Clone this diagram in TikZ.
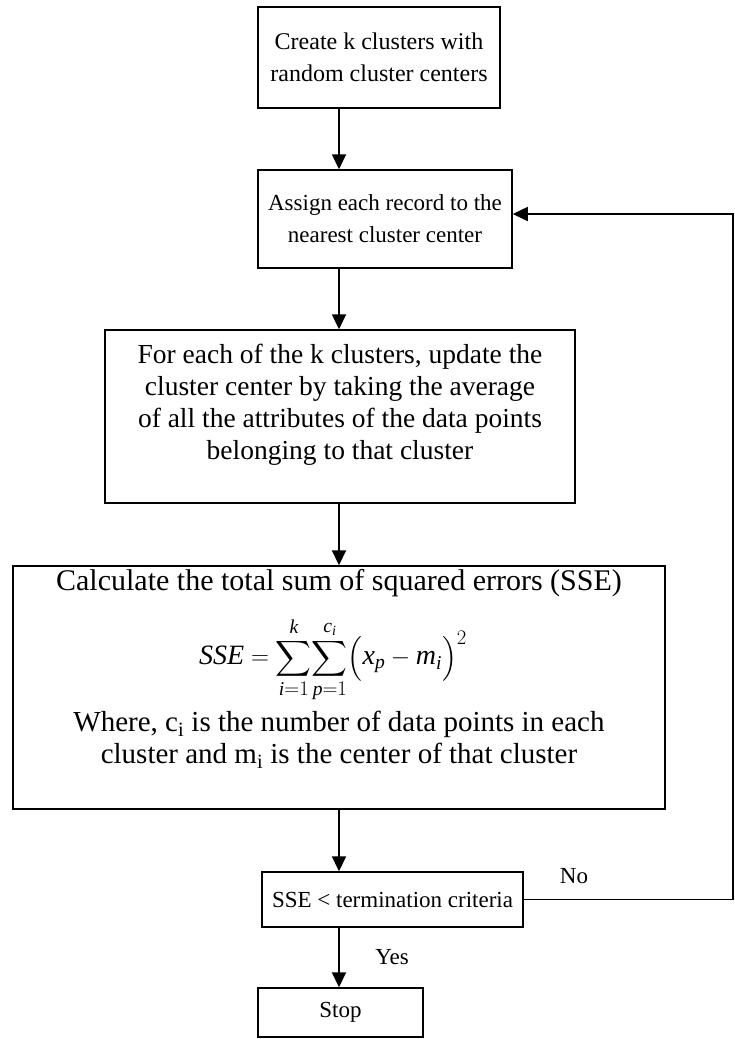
\documentclass[tikz,border=0pt]{standalone}
\usepackage{amsmath}
\usepackage{fontspec}
\setmainfont{Liberation Serif}
\usetikzlibrary{arrows.meta}
\begin{document}
\begin{tikzpicture}[x=1pt,y=-1pt,
  frame/.style={draw,line width=1.5pt,align=center,inner sep=0pt},
  small/.style={font=\fontsize{23}{32}\selectfont},
  txt/.style={align=center,inner sep=0pt},
  flow/.style={line width=2.2pt,-{Triangle[length=15pt,width=14pt]}},
  back/.style={line width=1.5pt},
  lbl/.style={inner sep=0pt,font=\fontsize{23}{32}\selectfont}]
\useasboundingbox (0,0) rectangle (734,1039);

% process steps
\node[frame,font=\fontsize{24}{32}\selectfont,minimum width=242pt,minimum height=101pt]
  (create) at (379,57.5) {Create k clusters with\\random cluster centers};
\node[frame,small,minimum width=254pt,minimum height=98pt] (assign) at (385,219)
  {Assign each record to the\\nearest cluster center};

\node[frame,minimum width=470pt,minimum height=173pt] (update) at (340,416.5) {};
\node[txt,font=\fontsize{27.5}{32}\selectfont] (updatetext) at (340,405)
  {For each of the k clusters, update the\\cluster center by taking the average\\
   of all the attributes of the data points\\belonging to that cluster};

\node[frame,minimum width=652pt,minimum height=243pt] (sse) at (339,687.5) {};
\node[txt,font=\fontsize{30}{32}\selectfont] (calc) at (339,583)
  {Calculate the total sum of squared errors (SSE)};
\node[txt,font=\fontsize{28}{32}\selectfont] (formula) at (333,660)
  {$\displaystyle \mathit{SSE}=\sum_{\mathit{i}=1}^{\mathit{k}}\!\sum_{\mathit{p}=1}^{\mathit{c_i}}\!
   \left(\vphantom{\sum}\mathit{x}_{\mathit{p}}-\mathit{m}_{\mathit{i}}\right)^{2}$};
\node[txt,font=\fontsize{29}{32}\selectfont] (where) at (339,740)
  {Where, c\textsubscript{i} is the number of data points in each\\
   cluster and m\textsubscript{i} is the center of that cluster};

\node[frame,small,minimum width=261pt,minimum height=55pt] (check) at (392.5,899.5)
  {SSE < termination criteria};
\node[frame,small,minimum width=165pt,minimum height=49pt] (stop) at (340.5,1012.5)
  {Stop};

% main flow
\coordinate (ax) at (339,0);
\draw[flow] (create.south -| ax) -- (assign.north -| ax);
\draw[flow] (assign.south -| ax) -- (update.north -| ax);
\draw[flow] (update.south -| ax) -- (sse.north -| ax);
\draw[flow] (sse.south -| ax) -- (check.north -| ax);
\draw[flow] (check.south -| ax) -- (stop.north -| ax);

% loop back when the criterion is not met
\coordinate (rc) at (733,0);
\coordinate (entry) at ([yshift=5pt]assign.east);
\draw[back,-{Triangle[length=15pt,width=14pt]}]
  (check.east) -- (check.east -| rc) -- (entry -| rc) -- (entry);

% branch labels
\node[lbl] (no) at (574,876) {No};
\node[lbl] (yes) at (392,957) {Yes};
\end{tikzpicture}
\end{document}
